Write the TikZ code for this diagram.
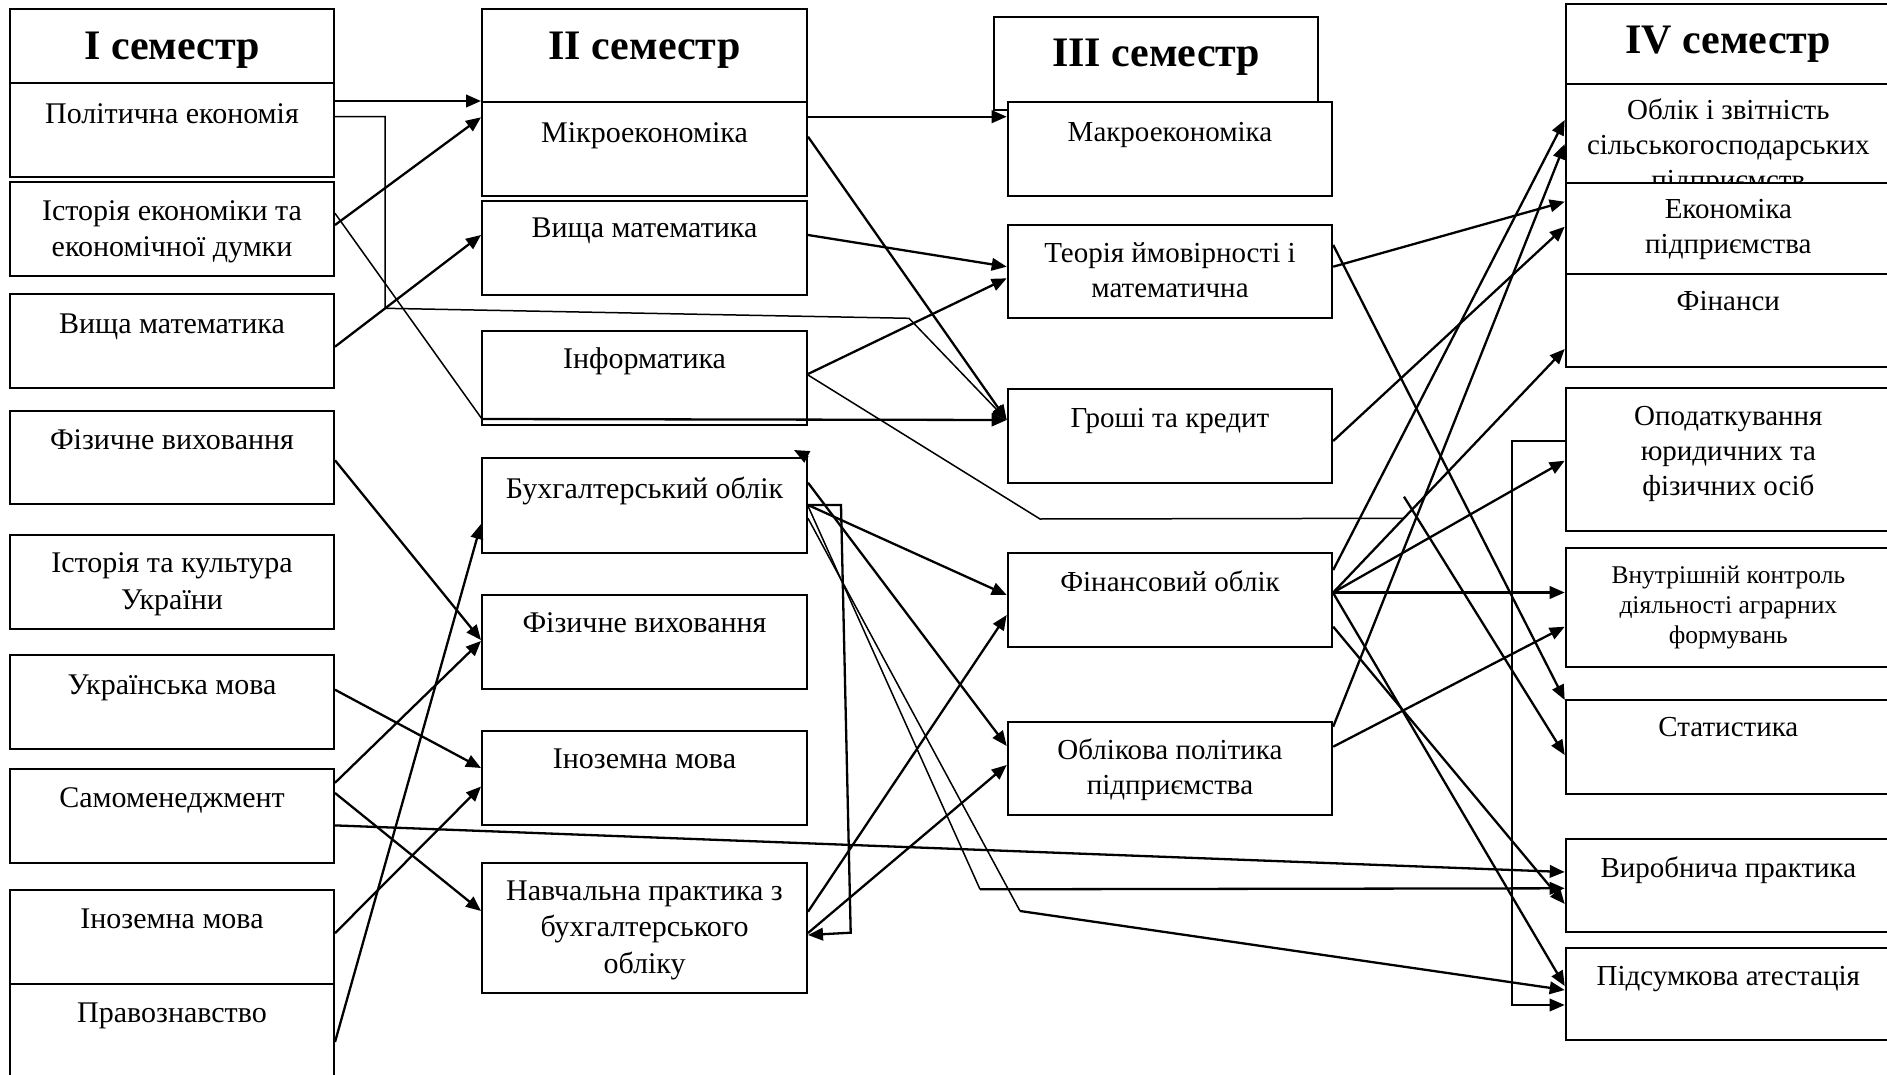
\documentclass[tikz,border=0pt]{standalone}
\usepackage{fontspec}
\setmainfont{Liberation Serif}
\usetikzlibrary{arrows.meta,fit}
\newcommand\bodyfnt{\fontsize{30}{36.6}\selectfont}
\newcommand\rightfnt{\fontsize{29}{35}\selectfont}
\newcommand\smallfnt{\fontsize{25.5}{30}\selectfont}
\newcommand\hdrfnt{\fontsize{42}{48}\selectfont\bfseries}
\begin{document}
\begin{tikzpicture}[x=1pt,y=-1pt,
  box/.style={draw, line width=2pt, fill=white, inner sep=0pt},
  txtA/.style={anchor=north, inner sep=0pt, align=center, font=\bodyfnt, yshift=25.62pt},
  txtB/.style={anchor=north, inner sep=0pt, align=center, font=\rightfnt, yshift=24.5pt},
  txtC/.style={anchor=north, inner sep=0pt, align=center, font=\smallfnt, yshift=21pt},
  hdr/.style={anchor=base, inner sep=0pt, font=\hdrfnt},
  arr/.style={line width=2.3pt, -{Triangle[length=15pt,width=12.5pt]}},
  arrthin/.style={line width=1.5pt, -{Triangle[length=15pt,width=12.5pt]}},
  lnthin/.style={line width=1.5pt},
  arrmid/.style={line width=1.9pt, -{Triangle[length=15pt,width=12.5pt]}}]
\useasboundingbox (0,0) rectangle (1887,1075);
\clip (0,0) rectangle (1887,1075);
\fill[white] (0,0) rectangle (1887,1075);

% ---------- Column I ----------
\node[box, fit={(10,9)(334,83)}] (h1) {};
\node[hdr] (h1t) at (h1.north |- 0,60) {I семестр};
\node[box, fit={(10,83)(334,177)}] (pol) {};
\node[txtA] (polt) at (pol.north |- 0,123) {\strut Політична економія};
\node[box, fit={(10,182)(334,276)}] (hist) {};
\node[txtA] (histt) at (hist.north |- 0,220) {\strut Історія економіки та\\\strut економічної думки};
\node[box, fit={(10,294)(334,388)}] (vma) {};
\node[txtA] (vmat) at (vma.north |- 0,333) {\strut Вища математика};
\node[box, fit={(10,411)(334,504)}] (fiza) {};
\node[txtA] (fizat) at (fiza.north |- 0,449.6) {\strut Фізичне виховання};
\node[box, fit={(10,535)(334,629)}] (ist) {};
\node[txtA] (istt) at (ist.north |- 0,572.4) {\strut Історія та культура\\\strut України};
\node[box, fit={(10,655)(334,749)}] (ukr) {};
\node[txtA] (ukrt) at (ukr.north |- 0,694.4) {\strut Українська мова};
\node[box, fit={(10,769)(334,863)}] (sam) {};
\node[txtA] (samt) at (sam.north |- 0,807.3) {\strut Самоменеджмент};
\node[box, fit={(10,890)(334,984)}] (ina) {};
\node[txtA] (inat) at (ina.north |- 0,928) {\strut Іноземна мова};
\node[box, fit={(10,984)(334,1080)}] (prav) {};
\node[txtA] (pravt) at (prav.north |- 0,1022) {\strut Правознавство};

% ---------- Column II ----------
\node[box, fit={(482,9)(807,102)}] (h2) {};
\node[hdr] (h2t) at (h2.north |- 0,60) {II семестр};
\node[box, fit={(482,102)(807,196)}] (mik) {};
\node[txtA] (mikt) at (mik.north |- 0,142) {\strut Мікроекономіка};
\node[box, fit={(482,200.7)(807,295)}] (vmb) {};
\node[txtA] (vmbt) at (vmb.north |- 0,237) {\strut Вища математика};
\node[box, fit={(482,331)(807,425)}] (inf) {};
\node[txtA] (inft) at (inf.north |- 0,368) {\strut Інформатика};
\node[box, fit={(482,458.3)(807,552.8)}] (bux) {};
\node[txtA] (buxt) at (bux.north |- 0,498.5) {\strut Бухгалтерський облік};
\node[box, fit={(482,595.3)(807,689)}] (fizb) {};
\node[txtA] (fizbt) at (fizb.north |- 0,632.4) {\strut Фізичне виховання};
\node[box, fit={(482,731)(807,824.5)}] (inb) {};
\node[txtA] (inbt) at (inb.north |- 0,768) {\strut Іноземна мова};
\node[box, fit={(482,863)(807,993)}] (nav) {};
\node[txtA] (navt) at (nav.north |- 0,900) {\strut Навчальна практика з\\\strut бухгалтерського\\\strut обліку};

% ---------- Column III ----------
\node[box, fit={(994,16.8)(1318.3,110)}] (h3) {};
\node[hdr] (h3t) at (h3.north |- 0,67) {III семестр};
\node[box, fit={(1007.7,101.8)(1332.2,195.7)}] (mak) {};
\node[txtB] (makt) at (mak.north |- 0,141) {\strut Макроекономіка};
\node[box, fit={(1007.7,225)(1332.2,318.3)}] (teo) {};
\node[txtB] (teot) at (teo.north |- 0,262.5) {\strut Теорія ймовірності і\\\strut математична};
\node[box, fit={(1007.7,388.6)(1332.2,482.5)}] (gro) {};
\node[txtB] (grot) at (gro.north |- 0,426.8) {\strut Гроші та кредит};
\node[box, fit={(1007.7,552.9)(1332.2,646.7)}] (fin) {};
\node[txtB] (fint) at (fin.north |- 0,590.8) {\strut Фінансовий облік};
\node[box, fit={(1007.7,721.7)(1332.2,814.8)}] (obp) {};
\node[txtB] (obpt) at (obp.north |- 0,758.9) {\strut Облікова політика\\\strut підприємства};

% ---------- Column IV ----------
\node[box, fit={(1565.7,3.6)(1891,84)}] (h4) {};
\node[hdr] (h4t) at (h4.north |- 0,53.6) {IV семестр};
\node[box, fit={(1565.7,84)(1891,183)}] (obz) {};
\node[txtB] (obzt) at (obz.north |- 0,119.6) {\strut Облік і звітність\\\strut сільськогосподарських\\\strut підприємств};
\node[box, fit={(1565.7,183)(1891,274)}] (eco) {};
\node[txtB] (ecot) at (eco.north |- 0,218) {\strut Економіка\\\strut підприємства};
\node[box, fit={(1565.7,274)(1891,367)}] (fnn) {};
\node[txtB] (fnnt) at (fnn.north |- 0,310.7) {\strut Фінанси};
\node[box, fit={(1565.7,388.3)(1891,531)}] (opd) {};
\node[txtB] (opdt) at (opd.north |- 0,425) {\strut Оподаткування\\\strut юридичних та\\\strut фізичних осіб};
\node[box, fit={(1565.7,547.6)(1891,667)}] (vnk) {};
\node[txtC] (vnkt) at (vnk.north |- 0,583.7) {\strut Внутрішній контроль\\\strut діяльності аграрних\\\strut формувань};
\node[box, fit={(1565.7,699.8)(1891,793.5)}] (sta) {};
\node[txtB] (stat) at (sta.north |- 0,736.6) {\strut Статистика};
\node[box, fit={(1565.7,838.5)(1891,932.2)}] (vyr) {};
\node[txtB] (vyrt) at (vyr.north |- 0,877.4) {\strut Виробнича практика};
\node[box, fit={(1565.7,947.5)(1891,1040.2)}] (pid) {};
\node[txtB] (pidt) at (pid.north |- 0,985.3) {\strut Підсумкова атестація};

% ---------- bend points ----------
\coordinate (b2a) at (385,116.7);
\coordinate (b2b) at (385,308.3);
\coordinate (b2c) at (909,318.3);
\coordinate (b4) at (482,419);
\coordinate (b17a) at (1040,519);
\coordinate (b17b) at (1405,518.3);
\coordinate (b17c) at (1404,496.7);
\coordinate (b18a) at (841,505);
\coordinate (b18b) at (850.7,932.7);
\coordinate (b21) at (980,889.3);
\coordinate (b22) at (1020,911);
\coordinate (b36a) at (1512.3,441);
\coordinate (b36b) at (1512.3,1005);
\coordinate (b37) at (794,450);

% ---------- connectors I -> II ----------
\draw[arr] (pol.east |- mik.north west) -- (mik.north west);
\draw[arrthin] (pol.east |- 0,116.7) -- (b2a) -- (b2b) -- (b2c) -- (gro.west |- 0,420);
\draw[arr] (hist.east |- 0,225) -- (mik.west |- 0,117.3);
\draw[lnthin] (hist.east |- 0,213.3) -- (b4);
\draw[arr] (b4) -- (gro.west |- 0,420);
\draw[arr] (vma.east |- 0,346.7) -- (vmb.west |- 0,235);
\draw[arr] (fiza.east |- 0,460.3) -- (fizb.west |- 0,640);
\draw[arr] (ukr.east |- 0,689.7) -- (inb.west |- 0,768);
\draw[arr] (sam.east |- 0,782.8) -- (fizb.west |- 0,641);
\draw[arr] (sam.east |- 0,793) -- (nav.west |- 0,911);
\draw[arr] (sam.east |- 0,825.4) -- (vyr.west |- 0,872);
\draw[arr] (ina.east |- 0,933.2) -- (inb.west |- 0,786.5);
\draw[arr] (prav.east |- 0,1042) -- (bux.west |- 0,524);

% ---------- connectors II -> III / IV ----------
\draw[arr] (mik.east |- 0,116.7) -- (mak.west |- 0,116.7);
\draw[arr] (mik.east |- 0,136.7) -- (gro.west |- 0,420);
\draw[arr] (vmb.east |- 0,235) -- (teo.west |- 0,266.7);
\draw[arr] (inf.east |- 0,374) -- (teo.west |- 0,278.3);
\draw[lnthin] (inf.east |- 0,375) -- (b17a) -- (b17b);
\draw[arr] (b17c) -- (sta.west |- 0,755);
\draw[arr] (bux.east |- 0,505) -- (b18a) -- (b18b) -- (nav.east |- 0,935);
\draw[arr] (bux.east |- 0,505) -- (fin.west |- 0,595);
\draw[arr] (bux.east |- 0,482.7) -- (obp.west |- 0,746);
\draw[lnthin] (bux.east |- 0,506) -- (b21);
\draw[arr] (b21) -- (vyr.west |- 0,888.3);
\draw[lnthin] (bux.east |- 0,518.3) -- (b22);
\draw[arr] (b22) -- (pid.west |- 0,990);
\draw[arr] (bux.north east) -- (b37);
\draw[arr] (nav.east |- 0,911.7) -- (fin.west |- 0,615);
\draw[arr] (nav.east |- 0,933) -- (obp.west |- 0,765);

% ---------- connectors III -> IV ----------
\draw[arr] (teo.east |- 0,266.7) -- (eco.west |- 0,201.7);
\draw[arr] (teo.east |- 0,245) -- (sta.west |- 0,700);
\draw[arr] (gro.east |- 0,441) -- (eco.west |- 0,226.7);
\draw[arr] (fin.east |- 0,570) -- (obz.west |- 0,120);
\draw[arr] (fin.east |- 0,592.5) -- (fnn.west |- 0,349);
\draw[arr] (fin.east |- 0,592.5) -- (opd.west |- 0,460.7);
\draw[arr] (fin.east |- 0,592.5) -- (vnk.west |- 0,592.5);
\draw[arr] (fin.east |- 0,593) -- (pid.west |- 0,986);
\draw[arr] (fin.east |- 0,626.7) -- (vyr.west |- 0,904);
\draw[arr] (obp.east |- 0,726.7) -- (obz.west |- 0,144);
\draw[arr] (obp.east |- 0,746.7) -- (vnk.west |- 0,626.7);
\draw[arrmid] (opd.west |- 0,441) -- (b36a) -- (b36b) -- (pid.west |- 0,1005);
\end{tikzpicture}
\end{document}
